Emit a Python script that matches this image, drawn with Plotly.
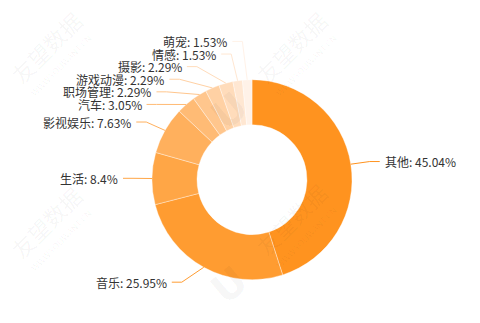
import math
import plotly.graph_objects as go

# Share of each content category (%)
categories = ["其他", "音乐", "生活", "影视娱乐", "汽车", "职场管理", "游戏动漫", "摄影", "情感", "萌宠"]
shares = [45.04, 25.95, 8.4, 7.63, 3.05, 2.29, 2.29, 2.29, 1.53, 1.53]
colors = ["#FF931F", "#FF9C31", "#FFA646", "#FFB05D", "#FFBB75", "#FFC68D",
          "#FFD1A4", "#FFDCBB", "#FFE7D2", "#FFF2E8"]

W, H = 480, 323
CX, CY, R = 252.0, 179.7, 100.0      # donut centre / outer radius (px)
HOLE = 0.55
LEN1, LEN2 = 17.0, 10.0               # leader line segments (px)
LABEL_H = 12.6                        # label row height (px)
FONT = "Noto Sans CJK SC, Noto Sans, sans-serif"


def px(x, y):
    return x / W, 1 - y / H


# mid angle of each slice, clockwise from 12 o'clock
total = sum(shares)
mids, acc = [], 0.0
for v in shares:
    mids.append((acc + v / 2) / total * 2 * math.pi)
    acc += v

labels = []
for name, v, col, a in zip(categories, shares, colors, mids):
    sx, sy = math.sin(a), -math.cos(a)
    labels.append(dict(
        text=f"{name}: {v:g}%", color=col,
        edge=(CX + R * sx, CY + R * sy),
        x=CX + (R + LEN1) * sx, y=CY + (R + LEN1) * sy,
        side=1 if sx >= 0 else -1,
    ))


def spread(items):
    """Keep label order, enforce a minimum row gap with the least total displacement."""
    items.sort(key=lambda d: d["y"])
    z = [d["y"] - i * LABEL_H for i, d in enumerate(items)]
    blocks = []
    for i, val in enumerate(z):
        blocks.append([val, 1, [i]])
        while len(blocks) > 1 and blocks[-2][0] > blocks[-1][0]:
            v2, n2, idx2 = blocks.pop()
            v1, n1, idx1 = blocks.pop()
            blocks.append([(v1 * n1 + v2 * n2) / (n1 + n2), n1 + n2, idx1 + idx2])
    for val, _, idx in blocks:
        for i in idx:
            items[i]["y"] = val + i * LABEL_H


def place_x(items, side):
    """Slide each label horizontally onto a ring around the donut."""
    up = [d for d in items if d["y"] < CY]
    down = [d for d in items if d["y"] >= CY]
    rr = R + LEN1 + LEN2 + 5
    for group, is_down in ((up, False), (down, True)):
        last = float("inf") if is_down else 0.0
        for d in group:
            dy = abs(d["y"] - CY)
            if dy < R + LEN1:
                dx = math.sqrt(rr * rr - dy * dy)
            else:
                dx = abs(d["x"] - CX) + LEN2 + 7
            if is_down and dx >= last:
                dx = last - 10
            if not is_down and dx <= last:
                dx = last + 10
            last = dx
            d["tx"] = CX + dx * side


for side in (1, -1):
    grp = [d for d in labels if d["side"] == side]
    spread(grp)
    place_x(grp, side)

fig = go.Figure(go.Pie(
    labels=categories, values=shares, sort=False, direction="clockwise", rotation=0,
    hole=HOLE, textinfo="none", hoverinfo="label+percent", showlegend=False,
    marker=dict(colors=colors, line=dict(color="rgba(255,255,255,0.6)", width=0.6)),
    domain=dict(x=[(CX - R) / W, (CX + R) / W], y=[1 - (CY + R) / H, 1 - (CY - R) / H]),
))

shapes, annotations = [], []

# faint watermark tiles
WM = "rgba(0,0,0,0.045)"
for tx, ty in [(46, 47), (291, 47), (46, 222), (291, 219)]:
    for txt, dx, dy, size in [("友望数据", 0, 0, 22), ("WWW.YOUWANT.CN", 15, 18, 9)]:
        xp, yp = px(tx + dx, ty + dy)
        annotations.append(dict(x=xp, y=yp, xref="paper", yref="paper", text=txt,
                                showarrow=False, textangle=-45,
                                xanchor="center", yanchor="middle",
                                font=dict(family=FONT, size=size, color=WM)))
for lx, ly in [(229, 111), (229, 285)]:
    xp, yp = px(lx, ly)
    annotations.append(dict(x=xp, y=yp, xref="paper", yref="paper", text="<b>U</b>",
                            showarrow=False, textangle=-40, xanchor="center", yanchor="middle",
                            font=dict(family="DejaVu Sans", size=40, color="rgba(0,0,0,0.04)")))

# leader lines and labels
for d in labels:
    s = d["side"]
    end_x = d["tx"] - 3 * s
    elbow_x = end_x - LEN2 * s
    pts = [px(*d["edge"]), px(elbow_x, d["y"]), px(end_x, d["y"])]
    path = "M {} {} L {} {} L {} {}".format(*[c for p in pts for c in p])
    shapes.append(dict(type="path", path=path, xref="paper", yref="paper",
                       line=dict(color=d["color"], width=1)))
    xp, yp = px(d["tx"], d["y"])
    annotations.append(dict(x=xp, y=yp, xref="paper", yref="paper", text=d["text"],
                            showarrow=False, xanchor="left" if s > 0 else "right",
                            yanchor="middle", font=dict(family=FONT, size=12, color="#333")))

fig.update_layout(
    width=W, height=H, margin=dict(l=0, r=0, t=0, b=0),
    paper_bgcolor="white", plot_bgcolor="white",
    shapes=shapes, annotations=annotations,
)
fig.write_html("out.html")
